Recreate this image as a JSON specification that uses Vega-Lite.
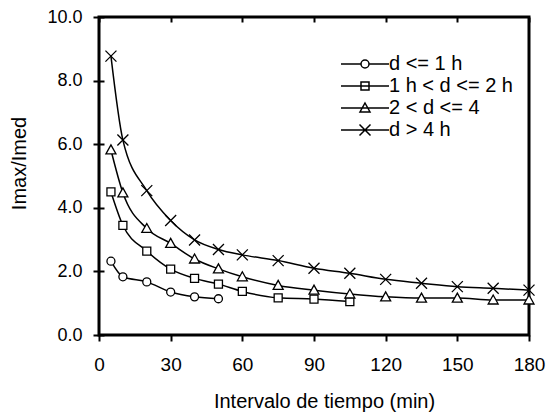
{
  "$schema": "https://vega.github.io/schema/vega-lite/v6.json",
  "width": 430,
  "height": 318,
  "autosize": {"type": "none"},
  "padding": {"left": 99, "top": 17, "right": 18, "bottom": 81},
  "config": {
    "font": "Liberation Sans",
    "view": {"stroke": "black", "strokeWidth": 3},
    "axis": {"labelOverlap": false, "labelBound": false}
  },
  "data": {"values": [
    {"t": 5, "v": 2.32, "s": "d <= 1 h"},
    {"t": 10, "v": 1.83, "s": "d <= 1 h"},
    {"t": 20, "v": 1.67, "s": "d <= 1 h"},
    {"t": 30, "v": 1.35, "s": "d <= 1 h"},
    {"t": 40, "v": 1.2, "s": "d <= 1 h"},
    {"t": 50, "v": 1.14, "s": "d <= 1 h"},
    {"t": 5, "v": 4.5, "s": "1 h < d <= 2 h"},
    {"t": 10, "v": 3.45, "s": "1 h < d <= 2 h"},
    {"t": 20, "v": 2.64, "s": "1 h < d <= 2 h"},
    {"t": 30, "v": 2.07, "s": "1 h < d <= 2 h"},
    {"t": 40, "v": 1.78, "s": "1 h < d <= 2 h"},
    {"t": 50, "v": 1.6, "s": "1 h < d <= 2 h"},
    {"t": 60, "v": 1.37, "s": "1 h < d <= 2 h"},
    {"t": 75, "v": 1.17, "s": "1 h < d <= 2 h"},
    {"t": 90, "v": 1.13, "s": "1 h < d <= 2 h"},
    {"t": 105, "v": 1.05, "s": "1 h < d <= 2 h"},
    {"t": 5, "v": 5.82, "s": "2 < d <= 4"},
    {"t": 10, "v": 4.47, "s": "2 < d <= 4"},
    {"t": 20, "v": 3.35, "s": "2 < d <= 4"},
    {"t": 30, "v": 2.88, "s": "2 < d <= 4"},
    {"t": 40, "v": 2.39, "s": "2 < d <= 4"},
    {"t": 50, "v": 2.08, "s": "2 < d <= 4"},
    {"t": 60, "v": 1.83, "s": "2 < d <= 4"},
    {"t": 75, "v": 1.56, "s": "2 < d <= 4"},
    {"t": 90, "v": 1.41, "s": "2 < d <= 4"},
    {"t": 105, "v": 1.29, "s": "2 < d <= 4"},
    {"t": 120, "v": 1.2, "s": "2 < d <= 4"},
    {"t": 135, "v": 1.16, "s": "2 < d <= 4"},
    {"t": 150, "v": 1.16, "s": "2 < d <= 4"},
    {"t": 165, "v": 1.1, "s": "2 < d <= 4"},
    {"t": 180, "v": 1.1, "s": "2 < d <= 4"},
    {"t": 5, "v": 8.77, "s": "d > 4 h"},
    {"t": 10, "v": 6.13, "s": "d > 4 h"},
    {"t": 20, "v": 4.54, "s": "d > 4 h"},
    {"t": 30, "v": 3.6, "s": "d > 4 h"},
    {"t": 40, "v": 2.99, "s": "d > 4 h"},
    {"t": 50, "v": 2.69, "s": "d > 4 h"},
    {"t": 60, "v": 2.52, "s": "d > 4 h"},
    {"t": 75, "v": 2.34, "s": "d > 4 h"},
    {"t": 90, "v": 2.1, "s": "d > 4 h"},
    {"t": 105, "v": 1.94, "s": "d > 4 h"},
    {"t": 120, "v": 1.75, "s": "d > 4 h"},
    {"t": 135, "v": 1.63, "s": "d > 4 h"},
    {"t": 150, "v": 1.52, "s": "d > 4 h"},
    {"t": 165, "v": 1.47, "s": "d > 4 h"},
    {"t": 180, "v": 1.41, "s": "d > 4 h"}
  ]},
  "layer": [
    {
      "mark": {"type": "line", "interpolate": "monotone", "color": "black", "strokeWidth": 1.5},
      "encoding": {
        "x": {"field": "t", "type": "quantitative", "scale": {"domain": [0, 180], "nice": false, "zero": false},
          "axis": {"values": [0, 30, 60, 90, 120, 150, 180], "labelFlush": false, "labelOverlap": false,
            "grid": true, "gridColor": "black", "gridWidth": 2, "gridDash": [5, 1000], "gridOpacity": 1,
            "tickSize": 6, "tickColor": "black", "tickWidth": 2, "domain": false,
            "labelPadding": 14, "labelFontSize": 19,
            "title": "Intervalo de tiempo (min)", "titleFontSize": 20, "titleFontWeight": "normal", "titlePadding": 17, "titleX": 225}},
        "y": {"field": "v", "type": "quantitative", "scale": {"domain": [0, 10], "nice": false},
          "axis": {"values": [0, 1, 2, 3, 4, 5, 6, 7, 8, 9, 10], "format": ".1f", "labelFlush": false, "labelOverlap": false,
            "grid": true, "gridColor": "black", "gridWidth": 2, "gridDash": [5, 1000], "gridOpacity": 1,
            "tickSize": 6, "tickColor": "black", "tickWidth": 2, "domain": false,
            "labelPadding": 11, "labelFontSize": 18,
            "title": "Imax/Imed", "titleFontSize": 20, "titleFontWeight": "normal", "titlePadding": 17, "titleY": 146}},
        "detail": {"field": "s"}
      }
    },
    {
      "mark": {"type": "point", "fill": "white", "stroke": "black", "strokeWidth": 1.3, "size": 100, "opacity": 1},
      "encoding": {
        "x": {"field": "t", "type": "quantitative"},
        "y": {"field": "v", "type": "quantitative"},
        "shape": {"field": "s", "type": "nominal",
          "scale": {"domain": ["d <= 1 h", "1 h < d <= 2 h", "2 < d <= 4", "d > 4 h"],
            "range": ["M0.8,0A0.8,0.8 0 1,1 -0.8,0A0.8,0.8 0 1,1 0.8,0Z", "M-0.8,-0.8H0.8V0.8H-0.8Z", "M0,-1L1,0.8H-1Z", "M-1.1,-1.1L1.1,1.1M1.1,-1.1L-1.1,1.1"]},
          "legend": null}
      }
    },
    {
      "transform": [{"filter": "datum.t < 0"}],
      "mark": {"type": "point", "fill": "white", "stroke": "black", "strokeWidth": 1.3, "size": 100, "opacity": 1},
      "encoding": {
        "x": {"field": "t", "type": "quantitative"},
        "y": {"field": "v", "type": "quantitative"},
        "shape": {"field": "s", "type": "nominal",
          "scale": {"domain": ["d <= 1 h", "1 h < d <= 2 h", "2 < d <= 4", "d > 4 h"],
            "range": ["M-4.8,0H-0.8M0.8,0H4.8M0.8,0A0.8,0.8 0 1,1 -0.8,0A0.8,0.8 0 1,1 0.8,0Z", "M-4.8,0H4.8M-0.8,-0.8H0.8V0.8H-0.8Z", "M-4.8,0H4.8M0,-1L1,0.8H-1Z", "M-4.8,0H4.8M-1.1,-1.1L1.1,1.1M1.1,-1.1L-1.1,1.1"]},
          "legend": {"title": null, "orient": "none", "legendX": 256, "legendY": 37, "labelFontSize": 20, "labelColor": "black", "labelOffset": 14, "rowPadding": 2}}
      }
    }
  ],
  "resolve": {"scale": {"shape": "independent"}, "legend": {"shape": "independent"}}
}
